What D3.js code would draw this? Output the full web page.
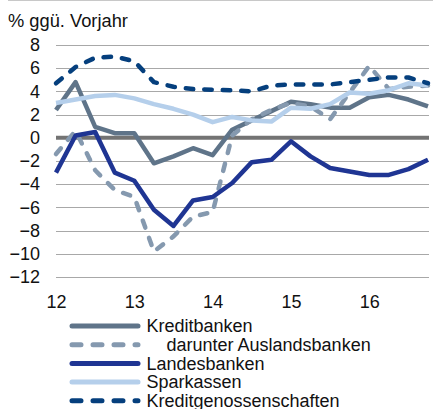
<!DOCTYPE html>
<meta charset="utf-8">
<title>Kredite nach Bankengruppen</title>
<style>
body { margin: 0; background: #fff; }
text { font-family: "Liberation Sans", Arial, sans-serif; fill: #111; }
</style>
<script src="https://d3js.org/d3.v7.min.js"></script>
<div id="chart"></div>
<script>

// quarterly values, 2012 Q1 .. 2016 Q4
var quarters = d3.range(20);
var yearLabels = ["12", "13", "14", "15", "16"];
var yTicks = [8, 6, 4, 2, 0, -2, -4, -6, -8, -10, -12];

var kreditbanken = [2.4, 4.8, 0.95, 0.4, 0.4, -2.2, -1.6, -0.9, -1.5, 0.7,
                    1.5, 2.3, 3.1, 2.9, 2.6, 2.6, 3.5, 3.7, 3.3, 2.7];
var auslandsbanken = [-1.4, 0.6, -2.8, -4.5, -5.1, -9.8, -8.5, -6.8, -6.4, 0.2,
                      1.6, 2.4, 3.0, 2.7, 1.6, 3.9, 6.2, 4.2, 4.4, 4.5];
var landesbanken = [-3.0, 0.2, 0.5, -3.0, -3.7, -6.2, -7.6, -5.4, -5.1, -3.9,
                    -2.1, -1.9, -0.3, -1.6, -2.6, -2.9, -3.2, -3.2, -2.7, -1.9];
var sparkassen = [3.0, 3.3, 3.6, 3.7, 3.4, 2.9, 2.5, 2.0, 1.35, 1.8,
                  1.5, 1.4, 2.6, 2.5, 2.9, 3.9, 3.8, 4.1, 4.7, 4.5];
var kreditgenossen = [4.7, 6.1, 6.9, 7.0, 6.6, 4.8, 4.4, 4.2, 4.15, 4.1,
                      4.0, 4.5, 4.6, 4.6, 4.6, 4.8, 5.0, 5.2, 5.2, 4.7];

var series = [
  {name: "Kreditbanken", values: kreditbanken, color: "#5f7489", dash: null, indent: 0},
  {name: "darunter Auslandsbanken", values: auslandsbanken, color: "#8599af", dash: "7.5,11", indent: 20},
  {name: "Landesbanken", values: landesbanken, color: "#1f3593", dash: null, indent: 0},
  {name: "Sparkassen", values: sparkassen, color: "#b5cfeb", dash: null, indent: 0},
  {name: "Kreditgenossenschaften", values: kreditgenossen, color: "#053f7d", dash: "7.5,11", indent: 0}
];

var width = 433,
    height = 409;

var svg = d3.select("#chart").append("svg")
    .attr("width", width)
    .attr("height", height);

var x = d3.scaleLinear().domain([0, 19]).range([56, 428]);
var y = d3.scaleLinear().domain([-12, 8]).range([277, 45]);

// thin rule at the very top
svg.append("line")
    .attr("x1", 8).attr("x2", width)
    .attr("y1", 0.5).attr("y2", 0.5)
    .attr("stroke", "#c8c8c8");

svg.append("text")
    .attr("x", 8).attr("y", 27)
    .style("font-size", "18.3px")
    .text("% ggü. Vorjahr");

// gridlines
svg.append("g").selectAll("line")
    .data(yTicks.filter(function(d) { return d != 0; }))
    .enter().append("line")
    .attr("x1", x(0)).attr("x2", 429)
    .attr("y1", function(d) { return Math.round(y(d)) + 0.5; })
    .attr("y2", function(d) { return Math.round(y(d)) + 0.5; })
    .attr("stroke", "#a8a8a8")
    .attr("stroke-width", 1);

svg.append("line")
    .attr("x1", x(0)).attr("x2", 429)
    .attr("y1", y(0)).attr("y2", y(0))
    .attr("stroke", "#737373")
    .attr("stroke-width", 4);

// y axis labels
var yAxis = svg.append("g")
    .attr("transform", "translate(40,0)")
    .call(d3.axisLeft(y).tickValues(yTicks).tickSize(0).tickPadding(0));
yAxis.select(".domain").remove();
yAxis.selectAll("text")
    .style("font-size", "18px")
    .attr("font-family", null)
    .attr("fill", null);

// x axis labels
var xAxis = svg.append("g")
    .attr("transform", "translate(0,295)")
    .call(d3.axisBottom(x).tickValues([0, 4, 8, 12, 16])
      .tickFormat(function(d, i) { return yearLabels[i]; })
      .tickSize(0).tickPadding(0));
xAxis.select(".domain").remove();
xAxis.selectAll("text")
    .style("font-size", "18px")
    .attr("font-family", null)
    .attr("fill", null);

var line = d3.line()
    .x(function(d, i) { return x(quarters[i]); })
    .y(function(d) { return y(d); });

svg.append("g").selectAll("path")
    .data(series)
    .enter().append("path")
    .attr("d", function(d) { return line(d.values); })
    .attr("fill", "none")
    .attr("stroke", function(d) { return d.color; })
    .attr("stroke-width", 4.5)
    .attr("stroke-linejoin", "round")
    .attr("stroke-linecap", function(d) { return d.dash ? "round" : "butt"; })
    .attr("stroke-dasharray", function(d) { return d.dash; });

// legend
var legend = svg.append("g").selectAll("g")
    .data(series)
    .enter().append("g")
    .attr("transform", function(d, i) { return "translate(0," + (326 + i * 18.7) + ")"; });

legend.append("line")
    .attr("x1", 72).attr("x2", 138)
    .attr("stroke", function(d) { return d.color; })
    .attr("stroke-width", 5)
    .attr("stroke-linecap", "round")
    .attr("stroke-dasharray", function(d) { return d.dash ? "9,12" : null; });

legend.append("text")
    .attr("x", function(d) { return 146.5 + d.indent; })
    .attr("y", 6.3)
    .style("font-size", "18px")
    .text(function(d) { return d.name; });

</script>
